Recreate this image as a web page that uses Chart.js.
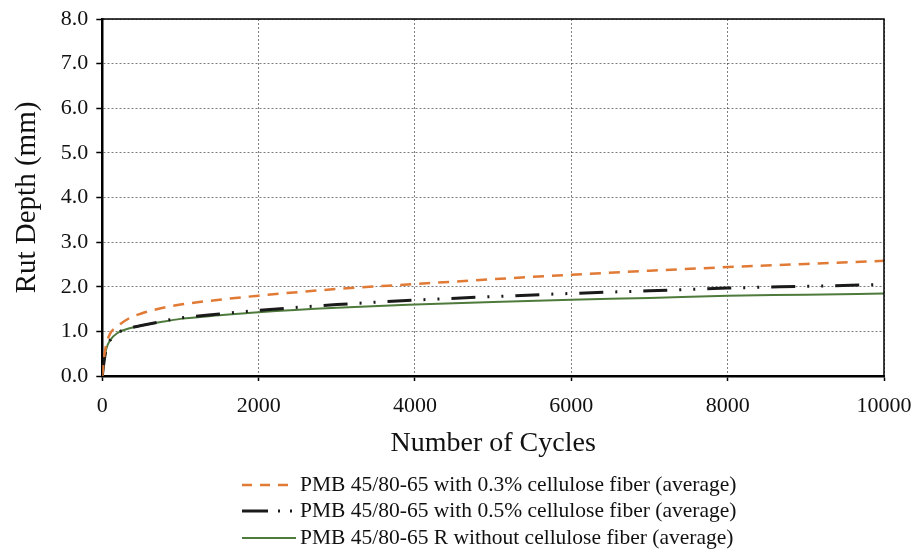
<!DOCTYPE html>
<html lang="en">
<head>
    <meta charset="UTF-8">
    <title>Rut Depth vs Number of Cycles</title>
    <script src="https://cdn.jsdelivr.net/npm/chart.js"></script>
    <style>
        body {
            margin: 0;
            background-color: #ffffff;
        }
        .chart-wrapper {
            width: 918px;
            height: 552px;
        }
    </style>
</head>
<body>
    <div class="chart-wrapper">
        <canvas id="rutChart"></canvas>
    </div>

    <script>
        // Wheel tracking results (rut depth in mm)
        const cycles = [0, 25, 50, 100, 200, 350, 500, 750, 1000, 1500, 2000, 3000, 4000, 5000, 6000, 7000, 8000, 9000, 10000];
        const fiber03 = [0, 0.45, 0.7, 0.95, 1.12, 1.3, 1.4, 1.52, 1.6, 1.71, 1.8, 1.95, 2.06, 2.17, 2.27, 2.36, 2.44, 2.51, 2.58];
        const fiber05 = [0, 0.35, 0.6, 0.8, 0.97, 1.07, 1.13, 1.22, 1.3, 1.39, 1.47, 1.6, 1.7, 1.78, 1.85, 1.91, 1.97, 2.01, 2.05];
        const noFiber = [0, 0.35, 0.6, 0.8, 0.97, 1.07, 1.13, 1.21, 1.28, 1.36, 1.43, 1.53, 1.6, 1.66, 1.71, 1.75, 1.8, 1.82, 1.85];

        const seriesLabels = [
            'PMB 45/80-65 with 0.3% cellulose fiber (average)',
            'PMB 45/80-65 with 0.5% cellulose fiber (average)',
            'PMB 45/80-65 R without cellulose fiber (average)'
        ];

        const serif = "'Liberation Serif', 'DejaVu Serif', serif";

        function toPoints(values) {
            return cycles.map((c, i) => ({ x: c, y: values[i] }));
        }

        // frame: thick left/bottom axes, thin top/right
        const framePlugin = {
            id: 'frame',
            afterDraw(chart) {
                const { ctx, chartArea: a } = chart;
                ctx.save();
                ctx.strokeStyle = '#000';
                ctx.lineWidth = 1.5;
                ctx.beginPath();
                ctx.moveTo(a.left, a.top);
                ctx.lineTo(a.right, a.top);
                ctx.lineTo(a.right, a.bottom);
                ctx.stroke();
                ctx.restore();
            }
        };

        // legend stacked under the axis title, left aligned
        const legendPlugin = {
            id: 'stackedLegend',
            afterDraw(chart) {
                const { ctx } = chart;
                const x0 = 242;
                const sampleLen = 54;
                const rows = [chart.height - 67, chart.height - 41, chart.height - 14];
                ctx.save();
                ctx.font = '21.5px ' + serif;
                ctx.textBaseline = 'middle';
                ctx.fillStyle = '#111';
                chart.data.datasets.forEach((ds, i) => {
                    const y = rows[i];
                    ctx.strokeStyle = ds.borderColor;
                    ctx.lineWidth = ds.borderWidth;
                    ctx.setLineDash(ds.legendDash);
                    ctx.beginPath();
                    ctx.moveTo(x0, y);
                    ctx.lineTo(x0 + sampleLen, y);
                    ctx.stroke();
                    ctx.setLineDash([]);
                    ctx.fillText(ds.label, x0 + sampleLen + 4, y);
                });
                ctx.restore();
            }
        };

        new Chart(document.getElementById('rutChart'), {
            type: 'line',
            data: {
                datasets: [{
                    label: seriesLabels[0],
                    data: toPoints(fiber03),
                    borderColor: '#E07A35',
                    borderWidth: 2.5,
                    borderDash: [11, 8],
                    legendDash: [10, 8],
                    pointRadius: 0,
                    cubicInterpolationMode: 'monotone',
                    fill: false
                }, {
                    label: seriesLabels[1],
                    data: toPoints(fiber05),
                    borderColor: '#1a1a1a',
                    borderWidth: 3,
                    borderDash: [24, 12, 2, 12, 2, 12],
                    legendDash: [26, 10, 2, 10, 2, 10],
                    pointRadius: 0,
                    cubicInterpolationMode: 'monotone',
                    fill: false
                }, {
                    label: seriesLabels[2],
                    data: toPoints(noFiber),
                    borderColor: '#4E7A3C',
                    borderWidth: 2,
                    borderDash: [],
                    legendDash: [],
                    pointRadius: 0,
                    cubicInterpolationMode: 'monotone',
                    fill: false
                }]
            },
            options: {
                responsive: true,
                maintainAspectRatio: false,
                animation: false,
                layout: {
                    padding: { top: 0, right: 0, left: 10, bottom: 92 }
                },
                plugins: {
                    legend: { display: false },
                    tooltip: { enabled: false }
                },
                scales: {
                    x: {
                        type: 'linear',
                        min: 0,
                        max: 10000,
                        afterFit: scale => { scale.paddingRight = 34; },
                        ticks: {
                            stepSize: 2000,
                            color: '#111',
                            font: { family: serif, size: 22 },
                            padding: 12,
                            maxRotation: 0,
                            callback: v => String(v)
                        },
                        grid: {
                            color: 'rgba(0,0,0,0.5)',
                            lineWidth: 1,
                            tickColor: '#000',
                            tickLength: 5,
                            tickWidth: 1.5
                        },
                        border: { color: '#000', width: 2.5, dash: [2, 2] },
                        title: {
                            display: true,
                            text: 'Number of Cycles',
                            color: '#111',
                            font: { family: serif, size: 28 },
                            padding: { top: -5, bottom: 0 }
                        }
                    },
                    y: {
                        min: 0,
                        max: 8,
                        afterFit: scale => { scale.paddingTop = 19; },
                        ticks: {
                            stepSize: 1,
                            color: '#111',
                            font: { family: serif, size: 22 },
                            padding: 8,
                            callback: v => v.toFixed(1)
                        },
                        grid: {
                            color: 'rgba(0,0,0,0.5)',
                            lineWidth: 1,
                            tickColor: '#000',
                            tickLength: 6,
                            tickWidth: 1.5
                        },
                        border: { color: '#000', width: 2.5, dash: [2, 2] },
                        title: {
                            display: true,
                            text: 'Rut Depth (mm)',
                            color: '#111',
                            font: { family: serif, size: 29 },
                            padding: { top: 0, bottom: 8 }
                        }
                    }
                }
            },
            plugins: [framePlugin, legendPlugin]
        });
    </script>
</body>
</html>
